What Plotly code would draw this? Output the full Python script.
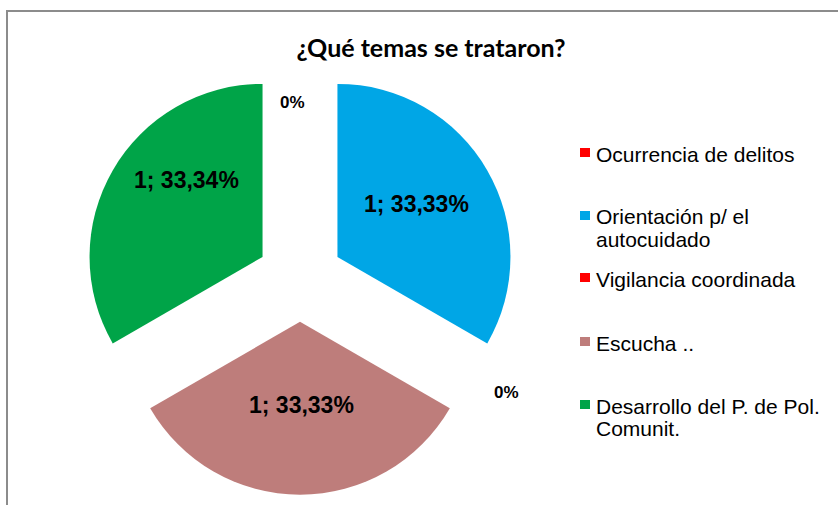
import plotly.graph_objects as go

# Survey data: topics discussed
temas = [
    "Ocurrencia de delitos",
    "Orientación p/ el\nautocuidado",
    "Vigilancia coordinada",
    "Escucha ..",
    "Desarrollo del P. de Pol.\nComunit.",
]
valores = [0, 1, 0, 1, 1]
porcentajes = [0.0, 33.33, 0.0, 33.33, 33.34]
colores = ["#FF0000", "#00A6E6", "#FF0000", "#BE7D7B", "#00A448"]

W, H = 838, 505
FONT = "Arial, Liberation Sans, sans-serif"


def etiqueta(v, p):
    if v == 0:
        return f"{p:.0f}%"
    return f"{v}; " + f"{p:.2f}".replace(".", ",") + "%"


# pie geometry in pixels: centre and outer extent including pull
cx, cy, half = 300, 278.5, 216.25

fig = go.Figure(
    go.Pie(
        labels=[t.replace("\n", " ") for t in temas],
        values=valores,
        textinfo="none",
        marker=dict(colors=colores, line=dict(width=0)),
        pull=[0.25] * len(valores),
        sort=False,
        direction="clockwise",
        rotation=0,
        hoverinfo="skip",
        showlegend=False,
        domain=dict(
            x=[(cx - half) / W, (cx + half) / W],
            y=[(H - cy - half) / H, (H - cy + half) / H],
        ),
    )
)

annotations = []
shapes = []

# chart-area border
shapes.append(dict(type="rect", xref="paper", yref="paper",
                   x0=7 / W, x1=1.02, y0=-0.05, y1=1 - 11 / H,
                   line=dict(color="#8C8C8C", width=2), fillcolor="rgba(0,0,0,0)",
                   layer="below"))

# data labels for each slice
label_pos = [(292, 103), (416, 204), (506, 392), (301, 405), (186, 180)]
for v, p, (x, y) in zip(valores, porcentajes, label_pos):
    annotations.append(dict(
        text=f"<b>{etiqueta(v, p)}</b>", x=x / W, y=1 - y / H,
        xref="paper", yref="paper", xanchor="center", yanchor="middle",
        showarrow=False,
        font=dict(family=FONT, size=17 if v == 0 else 23, color="black"),
    ))

# legend drawn at the right
legend_rows = [154, 217, 279, 343, 406]
line_gap = 22
for i, (tema, y0) in enumerate(zip(temas, legend_rows)):
    shapes.append(dict(type="rect", xref="paper", yref="paper",
                       x0=580 / W, x1=590 / W,
                       y0=1 - (y0 + 3) / H, y1=1 - (y0 - 6) / H,
                       fillcolor=colores[i], line=dict(width=0)))
    for j, linea in enumerate(tema.split("\n")):
        annotations.append(dict(
            text=linea, x=594 / W, y=1 - (y0 + j * line_gap) / H,
            xref="paper", yref="paper", xanchor="left", yanchor="middle",
            showarrow=False, font=dict(family=FONT, size=21, color="black"),
        ))

fig.update_layout(
    width=W,
    height=H,
    margin=dict(l=0, r=0, t=0, b=0),
    paper_bgcolor="white",
    plot_bgcolor="white",
    title=dict(
        text="<b>¿Qué temas se trataron?</b>",
        x=431 / W, xanchor="center", xref="paper",
        y=1 - 48 / H, yanchor="middle", yref="paper",
        font=dict(family="Lato, sans-serif", size=25, color="black"),
    ),
    annotations=annotations,
    shapes=shapes,
)

fig.write_html("out.html")
